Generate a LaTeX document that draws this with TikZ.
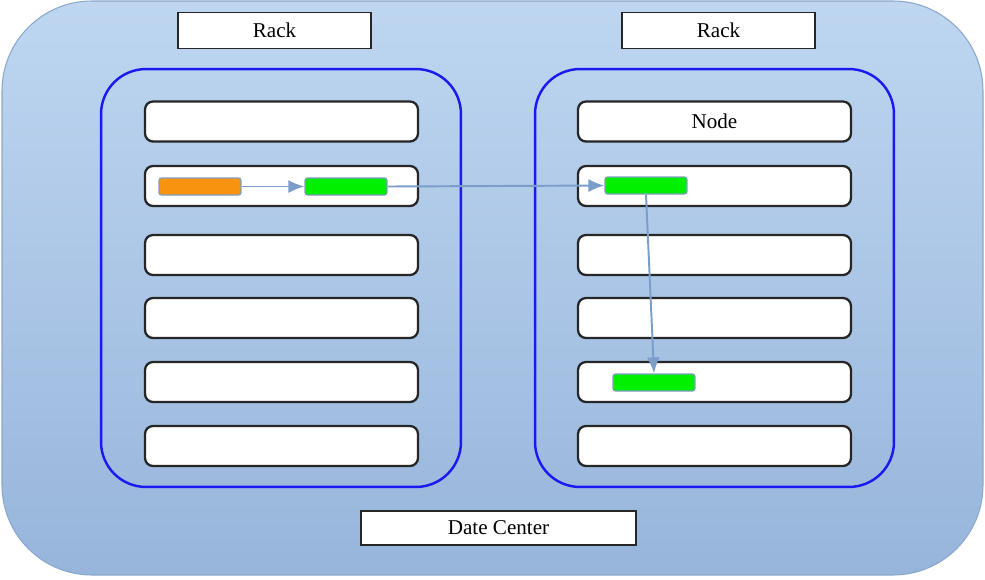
\documentclass[tikz,border=0pt]{standalone}
\usepackage{fontspec}
\setmainfont{Liberation Serif}
\newfontfamily\boxfont{Liberation Serif}
\usetikzlibrary{arrows.meta}

\definecolor{dcborder}{HTML}{8AA8CC}
\definecolor{dctop}{HTML}{BED6F0}
\definecolor{dcbottom}{HTML}{97B5DB}
\definecolor{rackblue}{HTML}{1A1AF0}
\definecolor{flowline}{HTML}{7B9DC9}
\definecolor{chiporange}{HTML}{F7930E}
\definecolor{chipgreen}{HTML}{00F000}
\definecolor{chipborder}{HTML}{7F9FBF}

\tikzset{
  label box/.style={draw=black!85,fill=white,line width=0.8pt,minimum height=0.72cm,inner sep=0mm,font=\boxfont\fontsize{12}{14}\selectfont},
  rack/.style={draw=rackblue,line width=1.4pt,rounded corners=0.9cm,minimum width=7.2cm,minimum height=8.36cm},
  server/.style={draw=black!85,fill=white,line width=1.3pt,rounded corners=0.16cm,minimum width=5.46cm,minimum height=0.8cm,inner sep=0mm,font=\boxfont\fontsize{12}{14}\selectfont},
  chip/.style={draw=chipborder,line width=0.7pt,rounded corners=0.05cm,minimum width=1.64cm,minimum height=0.34cm,inner sep=0mm},
  flow/.style={draw=flowline,line width=1.1pt,-{Latex[length=3.2mm,width=2.6mm]}}
}

\begin{document}
\begin{tikzpicture}[x=0.02cm,y=-0.02cm]
  \useasboundingbox (0,0) rectangle (985,579);
  % data center
  \shade [top color=dctop,bottom color=dcbottom,draw=dcborder,line width=0.6pt,rounded corners=1.8cm] (2,1) rectangle (983,575);
  \node (dc) [label box,minimum width=5.5cm,minimum height=0.68cm] at (498.5,528) {Date Center};
  % racks
  \node (rackA) [rack] at (281,278) {};
  \node (rackB) [rack,minimum width=7.18cm] at (714.5,278) {};
  \node (rackAlabel) [label box,minimum width=3.86cm] at (274.5,30.5) {Rack};
  \node (rackBlabel) [label box,minimum width=3.86cm] at (718.5,30.5) {Rack};
  % servers
  \node (a1) [server] at (281.5,121.5) {};
  \node (a2) [server] at (281.5,186) {};
  \node (a3) [server] at (281.5,255) {};
  \node (a4) [server] at (281.5,318) {};
  \node (a5) [server] at (281.5,382) {};
  \node (a6) [server] at (281.5,446) {};
  \node (b1) [server] at (714.5,121.5) {Node};
  \node (b2) [server] at (714.5,186) {};
  \node (b3) [server] at (714.5,255) {};
  \node (b4) [server] at (714.5,318) {};
  \node (b5) [server] at (714.5,382) {};
  \node (b6) [server] at (714.5,446) {};
  % blocks
  \node (src) [chip,fill=chiporange] at (200,186.5) {};
  \node (copyA) [chip,fill=chipgreen] at (346,186.5) {};
  \node (copyB) [chip,fill=chipgreen] at (646,185.5) {};
  \node (copyC) [chip,fill=chipgreen] at (654,382.5) {};
  \draw [flow] (src.east) to (copyA.west);
  \draw [flow] (copyA.east) to (copyB.west);
  \draw [flow] (copyB.south) to (copyC.north);
\end{tikzpicture}
\end{document}
